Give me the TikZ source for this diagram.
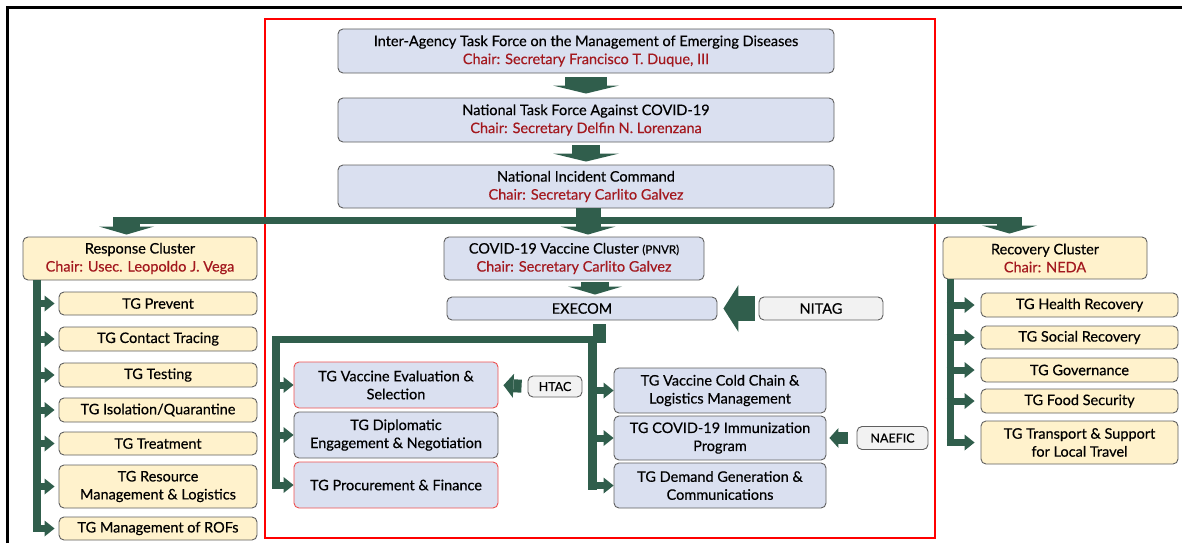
\documentclass[tikz,border=0pt]{standalone}
\usepackage{fontspec}
\setmainfont{Lato}[FakeBold=0.45]
\usetikzlibrary{arrows.meta}
\definecolor{gr}{RGB}{48,94,76}
\definecolor{chair}{RGB}{163,24,30}
\definecolor{bfill}{RGB}{218,224,240}
\definecolor{yfill}{RGB}{255,242,204}
\definecolor{gfill}{RGB}{242,242,242}
\definecolor{bord}{RGB}{95,95,95}
\definecolor{rbord}{RGB}{238,80,80}
\newcommand{\chairtxt}[1]{{\color{chair}#1}}
\begin{document}
\begin{tikzpicture}[x=1pt,y=-1pt,
  font=\fontsize{14.5}{18}\selectfont,
  box/.style={rounded corners=5pt, draw=bord, line width=0.9pt, align=center, inner sep=0pt},
  bbox/.style={box, fill=bfill},
  rbox/.style={box, fill=bfill, draw=rbord},
  ybox/.style={box, fill=yfill},
  gbox/.style={box, fill=gfill},
  barr/.style n args={3}{draw=gr, line width=#1, -{Triangle[width=#2, length=#3, line width=0pt]}},
  sarr/.style={draw=gr, line width=7pt, -{Triangle[width=16pt, length=10pt, line width=0pt]}},
  gbar/.style={draw=gr}
]
\useasboundingbox (0,0) rectangle (1182,543);
% frames
\draw[black, line width=2.5pt] (7.5,543) -- (7.5,7.5) -- (1182,7.5);
\draw[red, line width=2pt] (264.5,19.5) rectangle (934.5,538);

% top chain
\node[bbox, minimum width=496pt, minimum height=44pt] (b1) at (586,51) {Inter-Agency Task Force on the Management of Emerging Diseases\\ \chairtxt{Chair: Secretary Francisco T. Duque, III}};
\node[bbox, minimum width=496pt, minimum height=44pt] (b2) at (586,120) {National Task Force Against COVID-19\\ \chairtxt{Chair: Secretary Delfin N. Lorenzana}};
\node[bbox, minimum width=496pt, minimum height=43pt] (b3) at (586,186.5) {National Incident Command\\ \chairtxt{Chair: Secretary Carlito Galvez}};

\draw[barr={42pt}{66pt}{8pt}, shorten <=4pt, shorten >=4pt] (b1.south) -- (b2.north);
\draw[barr={28pt}{66pt}{8pt}, shorten <=3pt, shorten >=3pt] (b2.south) -- (b3.north);

% clusters
\node[ybox, minimum width=234pt, minimum height=43pt] (resp) at (140,258.5) {Response Cluster\\ \chairtxt{Chair: Usec. Leopoldo J. Vega}};
\node[bbox, minimum width=260pt, minimum height=43pt] (vc) at (574,258.5) {COVID-19 Vaccine Cluster {\fontsize{11.5}{18}\selectfont(PNVR)}\\ \chairtxt{Chair: Secretary Carlito Galvez}};
\node[ybox, minimum width=204pt, minimum height=42pt] (rec) at (1045,258) {Recovery Cluster\\ \chairtxt{Chair: NEDA}};

% main horizontal bar
\coordinate (hl) at (113,220.5);
\coordinate (hr) at (1022,220.5);
\draw[gbar, line width=7pt] (hl) -- (hr);
\coordinate (ltop) at (126.5,217);
\coordinate (rtop) at (1009.5,217);
\draw[barr={27pt}{55pt}{8pt}, shorten >=2pt] (ltop) -- (ltop |- resp.north);
\draw[barr={25pt}{55pt}{8pt}, shorten >=3pt] (rtop) -- (rtop |- rec.north);
\draw[barr={25pt}{55pt}{8pt}, shorten >=2pt] ([xshift=2pt]b3.south) -- ([xshift=14pt]vc.north);

% EXECOM & NITAG
\node[bbox, minimum width=270pt, minimum height=23pt] (ex) at (582,308.5) {EXECOM};
\node[gbox, minimum width=124pt, minimum height=23pt] (nitag) at (821,308.5) {NITAG};
\draw[barr={28pt}{54pt}{8pt}, shorten <=2pt, shorten >=2pt] ([xshift=21pt]vc.south) -- ([xshift=13pt]ex.north);
\draw[barr={25pt}{47pt}{15pt}, shorten <=4pt, shorten >=6pt] (nitag.west) -- (ex.east);

% vaccine TGs
\node[rbox, minimum width=204pt, minimum height=46pt] (ve) at (396,385) {TG Vaccine Evaluation \&\\ Selection};
\node[bbox, minimum width=204pt, minimum height=46pt] (de) at (396,435) {TG Diplomatic\\ Engagement \& Negotiation};
\node[rbox, minimum width=204pt, minimum height=46pt] (pf) at (396,485) {TG Procurement \& Finance};
\node[gbox, minimum width=54pt, minimum height=21pt, font=\fontsize{12.5}{14}\selectfont] (htac) at (555,386.5) {HTAC};

\node[bbox, minimum width=212pt, minimum height=45pt] (cc) at (720,390.5) {TG Vaccine Cold Chain \&\\ Logistics Management};
\node[bbox, minimum width=212pt, minimum height=44pt] (im) at (720,438) {TG COVID-19 Immunization\\ Program};
\node[bbox, minimum width=212pt, minimum height=45pt] (dg) at (720,485.5) {TG Demand Generation \&\\ Communications};
\node[gbox, minimum width=71pt, minimum height=23pt, font=\fontsize{12.5}{14}\selectfont] (naefic) at (892.5,438) {NAEFIC};

% EXECOM down connector
\coordinate (exr) at (606,339.5);
\coordinate (exl) at (272,339.5);
\draw[gbar, line width=13pt, shorten <=4pt] ([xshift=17.5pt]ex.south) -- ([xshift=17.5pt]ex.south |- exr);
\draw[gbar, line width=7pt] (exr) -- (exl);
\coordinate (lbx) at (272,0);
\coordinate (rbx) at (588,0);
\draw[gbar, line width=8pt] (276,336) -- (276,488.5);
\draw[gbar, line width=9pt] (592.5,336) -- (592.5,489.5);
\draw[sarr] (ve.west -| lbx) -- (ve.west);
\draw[sarr] (de.west -| lbx) -- (de.west);
\draw[sarr] (pf.west -| lbx) -- (pf.west);
\draw[sarr] (cc.west -| rbx) -- (cc.west);
\draw[sarr] (im.west -| rbx) -- (im.west);
\draw[sarr] (dg.west -| rbx) -- (dg.west);
\draw[barr={13pt}{24pt}{10pt}, shorten <=6pt, shorten >=5pt] (htac.west) -- (ve.east);
\draw[barr={12pt}{20pt}{9pt}, shorten <=9pt, shorten >=3pt] (naefic.west) -- (im.east);

% Response TGs
\node[ybox, minimum width=198pt, minimum height=23pt] (r1) at (158,303.5) {TG Prevent};
\node[ybox, minimum width=198pt, minimum height=24pt] (r2) at (158,339) {TG Contact Tracing};
\node[ybox, minimum width=198pt, minimum height=24pt] (r3) at (158,375) {TG Testing};
\node[ybox, minimum width=198pt, minimum height=24pt] (r4) at (158,410) {TG Isolation/Quarantine};
\node[ybox, minimum width=198pt, minimum height=23pt] (r5) at (158,443.5) {TG Treatment};
\node[ybox, minimum width=198pt, minimum height=43pt] (r6) at (158,486.5) {TG Resource\\ Management \& Logistics};
\node[ybox, minimum width=198pt, minimum height=23pt] (r7) at (158,528.5) {TG Management of ROFs};
\coordinate (rsx) at (37,0);
\coordinate (rsa) at (33,0);
\draw[gbar, line width=8pt] (resp.south -| rsx) -- (37,532);
\foreach \n in {r1,r2,r3,r4,r5,r6,r7}
  \draw[sarr, shorten >=4pt] (\n.west -| rsa) -- (\n.west);

% Recovery TGs
\node[ybox, minimum width=197pt, minimum height=24pt] (c1) at (1079.5,305) {TG Health Recovery};
\node[ybox, minimum width=197pt, minimum height=23pt] (c2) at (1079.5,337.5) {TG Social Recovery};
\node[ybox, minimum width=197pt, minimum height=24pt] (c3) at (1079.5,370) {TG Governance};
\node[ybox, minimum width=197pt, minimum height=24pt] (c4) at (1079.5,401) {TG Food Security};
\node[ybox, minimum width=197pt, minimum height=43pt] (c5) at (1079.5,442.5) {TG Transport \& Support\\ for Local Travel};
\coordinate (csx) at (950,0);
\coordinate (csa) at (946.5,0);
\draw[gbar, line width=7pt] (rec.south -| csx) -- (950,446);
\foreach \n in {c1,c2,c3,c4,c5}
  \draw[sarr, shorten >=6pt] (\n.west -| csa) -- (\n.west);
\end{tikzpicture}
\end{document}
